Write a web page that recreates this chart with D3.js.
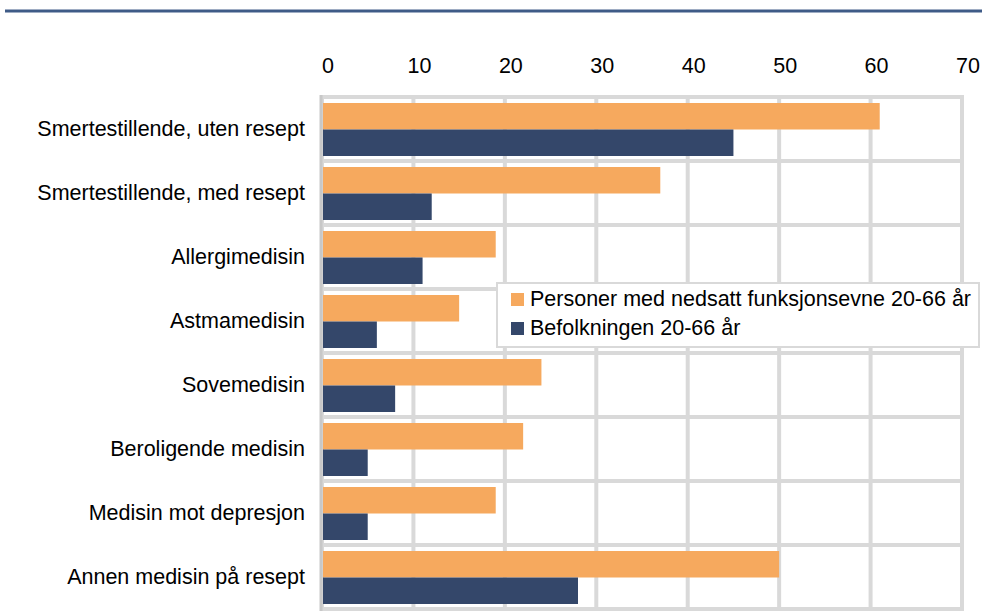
<!DOCTYPE html>
<html>
  <head>
    <meta charset="utf-8" />
    <script src="https://d3js.org/d3.v7.min.js"></script>
    <style>
      body { margin: 0; background: #ffffff; }
      text { font-family: "Liberation Sans", Arial, sans-serif; fill: #000000; font-size: 21.5px; }
      .grid { stroke: #d9d9d9; stroke-width: 4; }
    </style>
  </head>
  <body>
    <div id="chart"></div>
    <script type="text/javascript">

      var w = 982, h = 615;

      var categories = [
        "Smertestillende, uten resept",
        "Smertestillende, med resept",
        "Allergimedisin",
        "Astmamedisin",
        "Sovemedisin",
        "Beroligende medisin",
        "Medisin mot depresjon",
        "Annen medisin på resept"
      ];
      var seriesNames = ["Personer med nedsatt funksjonsevne 20-66 år", "Befolkningen 20-66 år"];
      var nedsatt = [61, 37, 19, 15, 24, 22, 19, 50];
      var befolkningen = [45, 12, 11, 6, 8, 5, 5, 28];
      var ticks = [0, 10, 20, 30, 40, 50, 60, 70];
      var colors = ["#f6a95e", "#34476a"];

      var svg = d3.select("#chart").append("svg")
        .attr("width", w).attr("height", h);

      // blue rule under the (cropped) heading
      svg.append("line").attr("x1", 5).attr("x2", w).attr("y1", 11).attr("y2", 11)
        .attr("stroke", "#3f5b87").attr("stroke-width", 3);

      var x = d3.scaleLinear().domain([0, 70]).range([322, 962]);
      var y = d3.scaleBand().domain(categories).range([97, 609]);
      var ySub = d3.scaleBand().domain([0, 1]).range([6, 59]);

      // vertical gridlines
      svg.selectAll("line.v").data(ticks).enter().append("line")
        .attr("class", "grid")
        .attr("x1", d => x(d)).attr("x2", d => x(d))
        .attr("y1", y.range()[0]).attr("y2", y.range()[1]);

      // horizontal gridlines at band edges
      var edges = categories.map(c => y(c)).concat([y.range()[1]]);
      svg.selectAll("line.h").data(edges).enter().append("line")
        .attr("class", "grid")
        .attr("x1", x(0) - 2).attr("x2", x(70) + 2)
        .attr("y1", d => d).attr("y2", d => d);

      // left axis line a bit darker
      svg.append("line").attr("x1", x(0) - 1).attr("x2", x(0) - 1)
        .attr("y1", y.range()[0] - 2).attr("y2", y.range()[1] + 2)
        .attr("stroke", "#c8c8c8").attr("stroke-width", 3);

      // top tick labels
      svg.selectAll("text.tick").data(ticks).enter().append("text")
        .attr("x", d => x(d) + 6).attr("y", 73)
        .attr("text-anchor", "middle")
        .text(d => d);

      var series = [nedsatt, befolkningen];
      series.forEach(function(vals, s) {
        svg.selectAll("rect.s" + s).data(categories).enter().append("rect")
          .attr("x", x(0) + 1)
          .attr("y", d => y(d) + ySub(s))
          .attr("width", (d, i) => x(vals[i]) - x(0) - 1)
          .attr("height", ySub.bandwidth())
          .attr("fill", colors[s]);
      });

      // category labels
      svg.selectAll("text.cat").data(categories).enter().append("text")
        .attr("x", 305).attr("y", d => y(d) + y.bandwidth() / 2 + 7)
        .attr("text-anchor", "end")
        .text(d => d);

      // legend
      var lg = svg.append("g").attr("transform", "translate(497,283)");
      lg.append("rect").attr("width", 482).attr("height", 64)
        .attr("fill", "#ffffff").attr("stroke", "#d9d9d9").attr("stroke-width", 2);
      seriesNames.forEach(function(n, i) {
        lg.append("rect").attr("x", 14).attr("y", 10 + i * 29)
          .attr("width", 13).attr("height", 13).attr("fill", colors[i]);
        lg.append("text").attr("x", 33).attr("y", 23 + i * 29)
          .text(n);
      });

    </script>
  </body>
</html>
